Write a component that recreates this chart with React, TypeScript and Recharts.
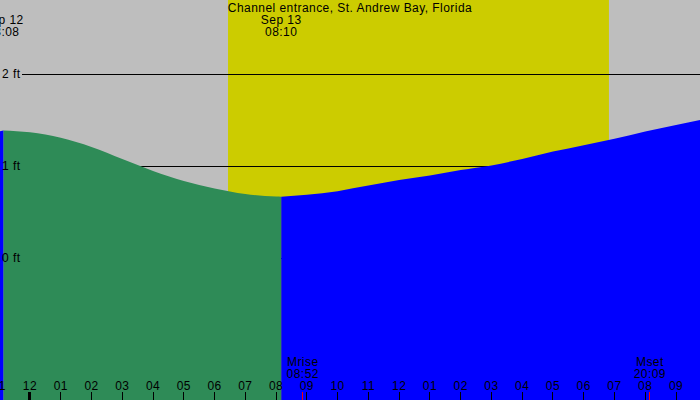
import React from "react";
import {
  ComposedChart,
  Area,
  XAxis,
  YAxis,
  ReferenceArea,
  ReferenceLine,
  ReferenceDot,
} from "recharts";

// water level through the night and day (hours from midnight Sep 13)
const tideHours = [-1, -0.867, 0, 1, 2, 3, 4, 5, 6, 7, 8, 8.167, 9, 10, 11, 12, 13, 14, 15, 16, 17, 18, 19, 20, 21, 22];
const tideFeet = [1.38, 1.39, 1.37, 1.31, 1.21, 1.08, 0.95, 0.84, 0.76, 0.7, 0.671, 0.67, 0.69, 0.73, 0.79, 0.85, 0.9, 0.96, 1.01, 1.08, 1.16, 1.23, 1.3, 1.38, 1.45, 1.52];

const highTideHour = -0.867;
const lowTideHour = 8.167;

const tideEvents = [
  { hour: -0.867, date: "Sep 12", time: "23:08" },
  { hour: 8.167, date: "Sep 13", time: "08:10" },
];

const moonEvents = [
  { hour: 8.867, name: "Mrise", time: "08:52" },
  { hour: 20.15, name: "Mset", time: "20:09" },
];

const sunrise = 6.437;
const sunset = 18.82;

const feetTicks = [0, 1, 2];
const hourTicks = [-1, 0, 1, 2, 3, 4, 5, 6, 7, 8, 9, 10, 11, 12, 13, 14, 15, 16, 17, 18, 19, 20, 21];

const X_DOMAIN = [-0.975, 21.78];
const Y_DOMAIN = [-1.543, 2.81];

const FONT = "Arial, 'Liberation Sans', sans-serif";
const txt = { fontFamily: FONT, fontSize: 12, fill: "#000", letterSpacing: 0.45 };
const title = "Channel entrance, St. Andrew Bay, Florida";

const rows = tideHours.map((hour, i) => ({
  hour,
  falling: hour >= highTideHour && hour <= lowTideHour ? tideFeet[i] : null,
  rising: hour <= highTideHour || hour >= lowTideHour ? tideFeet[i] : null,
}));

const hourLabel = (h: number) => String(((h % 12) + 12) % 12 || 12).padStart(2, "0");

const HourTick = (props: any) => {
  const { x, y, payload } = props;
  const midnight = payload.value === 0;
  return (
    <g>
      <text x={x} y={y} textAnchor="middle" {...txt}>
        {hourLabel(payload.value)}
      </text>
      <line
        x1={x}
        x2={x}
        y1={y + 2}
        y2={y + 10}
        stroke="#000"
        strokeWidth={midnight ? 3 : 1}
        shapeRendering="crispEdges"
      />
    </g>
  );
};

const FeetTick = (props: any) => {
  const { y, payload } = props;
  return (
    <text x={2} y={y + 4} {...txt}>
      {payload.value} ft
    </text>
  );
};

export default function App() {
  return (
    <div style={{ position: "absolute", left: 0, top: 0, width: 700, height: 400, background: "#bebebe" }}>
      <ComposedChart width={700} height={400} data={rows} margin={{ top: 0, right: 0, bottom: 0, left: 0 }}>
        <ReferenceArea
          x1={sunrise}
          x2={sunset}
          fill="#cccc00"
          fillOpacity={1}
          stroke="none"
          ifOverflow="visible"
          zIndex={-50}
        />
        {feetTicks.map((v) => (
          <ReferenceLine
            key={v}
            segment={[
              { x: -0.26, y: v },
              { x: X_DOMAIN[1], y: v },
            ]}
            stroke="#000"
            strokeWidth={1}
            shapeRendering="crispEdges"
            ifOverflow="visible"
            zIndex={-20}
          />
        ))}
        <Area
          type="monotone"
          dataKey="falling"
          stroke="none"
          fill="#2e8b57"
          fillOpacity={1}
          baseValue="dataMin"
          dot={false}
          activeDot={false}
          isAnimationActive={false}
        />
        <Area
          type="monotone"
          dataKey="rising"
          stroke="none"
          fill="#0000ff"
          fillOpacity={1}
          baseValue="dataMin"
          dot={false}
          activeDot={false}
          isAnimationActive={false}
        />
        <XAxis
          dataKey="hour"
          type="number"
          domain={X_DOMAIN}
          allowDataOverflow
          ticks={hourTicks}
          interval={0}
          mirror
          height={30}
          axisLine={false}
          tickLine={false}
          tickSize={8}
          tickMargin={2}
          tick={<HourTick />}
        />
        <YAxis
          type="number"
          domain={Y_DOMAIN}
          allowDataOverflow
          ticks={feetTicks}
          interval={0}
          mirror
          width={30}
          axisLine={false}
          tickLine={false}
          tick={<FeetTick />}
        />
        {tideEvents.map((e) => (
          <ReferenceDot
            key={e.time}
            x={e.hour}
            y={Y_DOMAIN[1]}
            r={1}
            ifOverflow="visible"
            zIndex={600}
            shape={(p: any) => (
              <g>
                <text x={p.cx} y={p.cy + 23.5} textAnchor="middle" {...txt}>
                  {e.date}
                </text>
                <text x={p.cx} y={p.cy + 36} textAnchor="middle" {...txt}>
                  {e.time}
                </text>
              </g>
            )}
          />
        ))}
        {moonEvents.map((e) => (
          <ReferenceDot
            key={e.name}
            x={e.hour}
            y={Y_DOMAIN[0]}
            r={1}
            ifOverflow="visible"
            zIndex={600}
            shape={(p: any) => (
              <g>
                <text x={p.cx} y={p.cy - 34} textAnchor="middle" {...txt}>
                  {e.name}
                </text>
                <text x={p.cx} y={p.cy - 22} textAnchor="middle" {...txt}>
                  {e.time}
                </text>
                <line
                  x1={p.cx}
                  x2={p.cx}
                  y1={p.cy - 8}
                  y2={p.cy}
                  stroke="#ff0000"
                  strokeWidth={1}
                  shapeRendering="crispEdges"
                />
              </g>
            )}
          />
        ))}
      </ComposedChart>
      <svg
        width={700}
        height={20}
        style={{ position: "absolute", left: 0, top: 0, pointerEvents: "none" }}
      >
        <text x={350} y={11.5} textAnchor="middle" {...txt}>
          {title}
        </text>
      </svg>
    </div>
  );
}
